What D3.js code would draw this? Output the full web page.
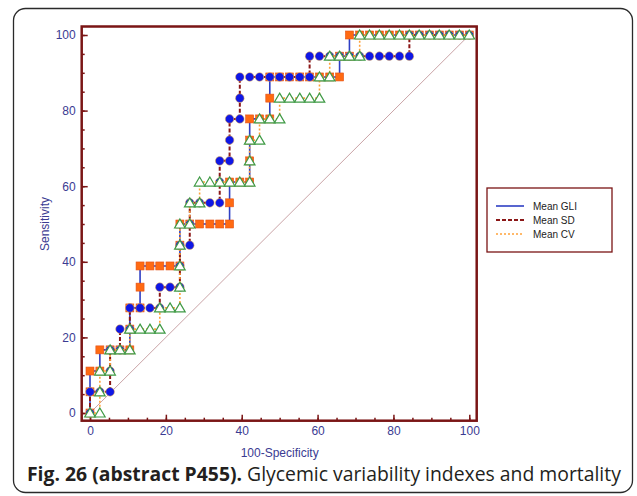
<!DOCTYPE html>
<html>
<head>
<meta charset="utf-8">
<script src="https://cdn.jsdelivr.net/npm/d3@7"></script>
<style>
  html, body { margin: 0; padding: 0; background: #fff; }
  svg { display: block; }
</style>
</head>
<body>
<script>
// ROC points: [100-Specificity, Sensitivity]
const gliPoints = [[0,0],[0,5.6],[0,11.1],[2.6,11.1],[2.6,16.7],[5.3,16.7],[7.9,16.7],[10.5,16.7],[10.5,22.2],[10.5,27.8],
  [13.2,27.8],[13.2,33.3],[13.2,38.9],[15.8,38.9],[18.4,38.9],[21.1,38.9],[23.7,38.9],[23.7,44.4],[23.7,50],[26.3,50],
  [28.9,50],[31.6,50],[34.2,50],[36.8,50],[36.8,55.6],[36.8,61.1],[39.5,61.1],[42.1,61.1],[42.1,66.7],[42.1,72.2],
  [42.1,77.8],[44.7,77.8],[47.4,77.8],[47.4,83.3],[47.4,88.9],[50,88.9],[52.6,88.9],[55.3,88.9],[57.9,88.9],[60.5,88.9],
  [63.2,88.9],[65.8,88.9],[65.8,94.4],[68.4,94.4],[68.4,100],[71.1,100],[73.7,100],[76.3,100],[78.9,100],[81.6,100],
  [84.2,100],[86.8,100],[89.5,100],[92.1,100],[94.7,100],[97.4,100],[100,100]];

const sdPoints = [[0,0],[0,5.6],[2.6,5.6],[5.3,5.6],[5.3,11.1],[5.3,16.7],[7.9,16.7],[7.9,22.2],[10.5,22.2],[10.5,27.8],
  [13.2,27.8],[15.8,27.8],[18.4,27.8],[18.4,33.3],[21.1,33.3],[23.7,33.3],[23.7,38.9],[23.7,44.4],[26.3,44.4],[26.3,50],
  [26.3,55.6],[28.9,55.6],[31.6,55.6],[34.2,55.6],[34.2,61.1],[34.2,66.7],[36.8,66.7],[36.8,72.2],[36.8,77.8],[39.5,77.8],
  [39.5,83.3],[39.5,88.9],[42.1,88.9],[44.7,88.9],[47.4,88.9],[50,88.9],[52.6,88.9],[55.3,88.9],[57.9,88.9],[57.9,94.4],
  [60.5,94.4],[63.2,94.4],[65.8,94.4],[68.4,94.4],[71.1,94.4],[73.7,94.4],[76.3,94.4],[78.9,94.4],[81.6,94.4],[84.2,94.4],
  [84.2,100],[86.8,100],[89.5,100],[92.1,100],[94.7,100],[97.4,100],[100,100]];

const cvPoints = [[0,0],[2.6,0],[2.6,5.6],[2.6,11.1],[5.3,11.1],[5.3,16.7],[7.9,16.7],[10.5,16.7],[10.5,22.2],[13.2,22.2],
  [15.8,22.2],[18.4,22.2],[18.4,27.8],[21.1,27.8],[23.7,27.8],[23.7,33.3],[23.7,38.9],[23.7,44.4],[23.7,50],[26.3,50],
  [26.3,55.6],[28.9,55.6],[28.9,61.1],[31.6,61.1],[34.2,61.1],[36.8,61.1],[39.5,61.1],[42.1,61.1],[42.1,66.7],[42.1,72.2],
  [44.7,72.2],[44.7,77.8],[47.4,77.8],[50,77.8],[50,83.3],[52.6,83.3],[55.3,83.3],[57.9,83.3],[60.5,83.3],[60.5,88.9],
  [63.2,88.9],[63.2,94.4],[65.8,94.4],[68.4,94.4],[71.1,94.4],[71.1,100],[73.7,100],[76.3,100],[78.9,100],[81.6,100],
  [84.2,100],[86.8,100],[89.5,100],[92.1,100],[94.7,100],[97.4,100],[100,100]];

const seriesNames = ["Mean GLI", "Mean SD", "Mean CV"];
const majorTicks = [0, 20, 40, 60, 80, 100];
const minorTicks = d3.range(0, 101, 5);
const xTitle = "100-Specificity";
const yTitle = "Sensitivity";
const captionBold = "Fig. 26 (abstract P455).";
const captionText = " Glycemic variability indexes and mortality";

const width = 637, height = 496;
const frame = {left: 81.7, right: 476.7, top: 26.5, bottom: 420.7};
const labelColor = "#3b3b92";
const frameColor = "#7a1515";

const x = d3.scaleLinear([0, 100], [90, 469.3]);
const y = d3.scaleLinear([0, 100], [413, 35]);

const svg = d3.select("body").append("svg")
  .attr("width", width)
  .attr("height", height)
  .style("font-family", "'Liberation Sans', Arial, sans-serif");

// outer rounded box
svg.append("rect")
  .attr("x", 13.5).attr("y", 8.5)
  .attr("width", 619).attr("height", 484)
  .attr("rx", 12)
  .attr("fill", "#fff")
  .attr("stroke", "#2a2a2a")
  .attr("stroke-width", 1.3);

// diagonal reference
svg.append("line")
  .attr("x1", x(0)).attr("y1", y(0))
  .attr("x2", x(100)).attr("y2", y(100))
  .attr("stroke", "#c9a3a6")
  .attr("stroke-width", 1);

// axes: minor + major ticks pointing inward
const gx = svg.append("g").attr("transform", `translate(0,${frame.bottom})`);
gx.append("g").call(d3.axisBottom(x).tickValues(minorTicks).tickSizeInner(-3).tickSizeOuter(0).tickFormat(""));
gx.append("g").call(d3.axisBottom(x).tickValues(majorTicks).tickSizeInner(-6).tickSizeOuter(0).tickPadding(6));

const gy = svg.append("g").attr("transform", `translate(${frame.left},0)`);
gy.append("g").call(d3.axisLeft(y).tickValues(minorTicks).tickSizeInner(-3).tickSizeOuter(0).tickFormat(""));
gy.append("g").call(d3.axisLeft(y).tickValues(majorTicks).tickSizeInner(-6).tickSizeOuter(0).tickPadding(6));

svg.selectAll(".domain").remove();
svg.selectAll(".tick line").attr("stroke", frameColor).attr("stroke-width", 1.5);
svg.selectAll(".tick text").attr("fill", labelColor).attr("font-size", 12)
  .attr("font-family", "'Liberation Sans', Arial, sans-serif");

// frame
svg.append("rect")
  .attr("x", frame.left).attr("y", frame.top)
  .attr("width", frame.right - frame.left)
  .attr("height", frame.bottom - frame.top)
  .attr("fill", "none")
  .attr("stroke", frameColor)
  .attr("stroke-width", 2.5);

// axis titles
svg.append("text")
  .attr("x", (x(0) + x(100)) / 2).attr("y", 457)
  .attr("text-anchor", "middle")
  .attr("fill", labelColor).attr("font-size", 12)
  .text(xTitle);

svg.append("text")
  .attr("transform", `translate(49,${(y(0) + y(100)) / 2}) rotate(-90)`)
  .attr("text-anchor", "middle")
  .attr("fill", labelColor).attr("font-size", 12)
  .text(yTitle);

// curves
const line = d3.line().x(d => x(d[0])).y(d => y(d[1]));

const styles = [
  {points: gliPoints, stroke: "#2f3fc4", width: 1.6, dash: null},
  {points: sdPoints, stroke: "#8b1717", width: 2, dash: "4,2"},
  {points: cvPoints, stroke: "#ffa23a", width: 1.6, dash: "2,2"}
];

const curves = svg.append("g");
styles.forEach((s, i) => {
  curves.append("path")
    .datum(s.points)
    .attr("d", line)
    .attr("fill", "none")
    .attr("stroke", s.stroke)
    .attr("stroke-width", s.width)
    .attr("stroke-dasharray", s.dash);

  const m = curves.append("g");
  if (i === 0) {
    m.selectAll("rect").data(s.points).join("rect")
      .attr("x", d => x(d[0]) - 4).attr("y", d => y(d[1]) - 4)
      .attr("width", 8).attr("height", 8)
      .attr("fill", "#ff6a12")
      .attr("stroke", "#e2521a").attr("stroke-width", 0.6);
  } else if (i === 1) {
    m.selectAll("circle").data(s.points).join("circle")
      .attr("cx", d => x(d[0])).attr("cy", d => y(d[1]))
      .attr("r", 4.3)
      .attr("fill", "#0f17e6")
      .attr("stroke", "#f0b040").attr("stroke-width", 0.5);
  } else {
    m.selectAll("path").data(s.points).join("path")
      .attr("d", d => {
        const cx = x(d[0]), cy = y(d[1]);
        return `M${cx},${cy - 5}L${cx + 5.3},${cy + 4}L${cx - 5.3},${cy + 4}Z`;
      })
      .attr("fill", "#fff")
      .attr("stroke", "#3f9a45").attr("stroke-width", 1.2);
  }
});

// legend
const lg = svg.append("g").attr("transform", "translate(487,188)");
lg.append("rect")
  .attr("width", 125).attr("height", 64)
  .attr("fill", "#fff")
  .attr("stroke", frameColor).attr("stroke-width", 1.3);
seriesNames.forEach((name, i) => {
  const ly = 18 + i * 14;
  lg.append("line")
    .attr("x1", 9).attr("x2", 37).attr("y1", ly).attr("y2", ly)
    .attr("stroke", styles[i].stroke)
    .attr("stroke-width", styles[i].width)
    .attr("stroke-dasharray", styles[i].dash);
  lg.append("text")
    .attr("x", 46).attr("y", ly + 3.5)
    .attr("font-size", 10).attr("fill", "#222")
    .text(name);
});

// caption
const cap = svg.append("text")
  .attr("x", 27).attr("y", 481)
  .attr("font-family", "'Open Sans', 'Noto Sans', sans-serif")
  .attr("font-size", 17)
  .attr("fill", "#231f20");
cap.append("tspan").attr("font-weight", "bold").text(captionBold);
cap.append("tspan").text(captionText);
const capLen = cap.node().getComputedTextLength();
cap.attr("font-size", 17 * 594 / capLen);
</script>
</body>
</html>
